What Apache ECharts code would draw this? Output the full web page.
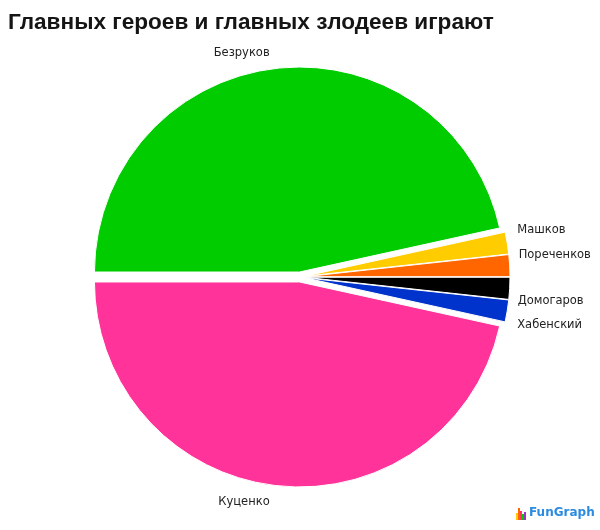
<!DOCTYPE html>
<html>
<head>
<meta charset="utf-8">
<script src="https://cdn.jsdelivr.net/npm/echarts@6/dist/echarts.min.js"></script>
<style>
html,body{margin:0;padding:0;background:#fff;}
#chart{width:600px;height:530px;}
</style>
</head>
<body>
<div id="chart"></div>
<script>
const titleText = 'Главных героев и главных злодеев играют';
const names = ['Безруков', 'Машков', 'Пореченков', 'Домогаров', 'Хабенский', 'Куценко'];
const values = [27, 1, 1, 1, 1, 27];
const colors = ['#00CC00', '#FFCC00', '#FF6600', '#000000', '#0033CC', '#FF3399'];

// small nudges to match the original label spread
const labelShift = [[4, 0], [0, -13], [-1, -11], [-2, 13], [0, 14], [4, 1]];

const chart = echarts.init(document.getElementById('chart'), null, {renderer: 'canvas'});
chart.setOption({
  animation: false,
  title: {
    text: titleText,
    left: 3,
    top: 6,
    textStyle: {fontFamily: 'Liberation Sans, Arial, sans-serif', fontSize: 22.6, fontWeight: 'bold', color: '#151515'}
  },
  graphic: [
    {type: 'rect', shape: {x: 516, y: 513, width: 2, height: 7}, style: {fill: '#FFCC00'}},
    {type: 'rect', shape: {x: 518, y: 508, width: 2, height: 12}, style: {fill: '#FF6600'}},
    {type: 'rect', shape: {x: 520, y: 511, width: 2, height: 9}, style: {fill: '#FF3366'}},
    {type: 'rect', shape: {x: 522, y: 514, width: 2, height: 6}, style: {fill: '#00CC00'}},
    {type: 'rect', shape: {x: 524, y: 512, width: 2, height: 8}, style: {fill: '#9933CC'}},
    {type: 'text', left: 529, top: 507, style: {text: 'FunGraph', fill: '#2A8BE0', font: 'bold 12px "DejaVu Sans", Verdana, sans-serif'}}
  ],
  series: [{
    type: 'pie',
    center: [300, 277],
    radius: 205,
    startAngle: 180,
    clockwise: true,
    selectedMode: 'multiple',
    selectedOffset: 5,
    avoidLabelOverlap: false,
    itemStyle: {borderColor: '#fff', borderWidth: 1},
    label: {
      show: true,
      position: 'outside',
      fontFamily: 'DejaVu Sans, Verdana, sans-serif',
      fontSize: 11.5,
      color: '#222',
      overflow: 'none'
    },
    labelLine: {show: false, length: 1, length2: 4},
    labelLayout: function (p) {
      const s = labelShift[p.dataIndex] || [0, 0];
      return {dx: s[0], dy: s[1]};
    },
    emphasis: {disabled: true},
    data: names.map((n, i) => ({
      name: n, value: values[i], selected: true,
      itemStyle: {color: colors[i]},
      labelLine: values[i] > 5 ? {show: false, length: 15, length2: 5} : {show: false, length: 1, length2: 4}
    }))
  }]
});
</script>
</body>
</html>
